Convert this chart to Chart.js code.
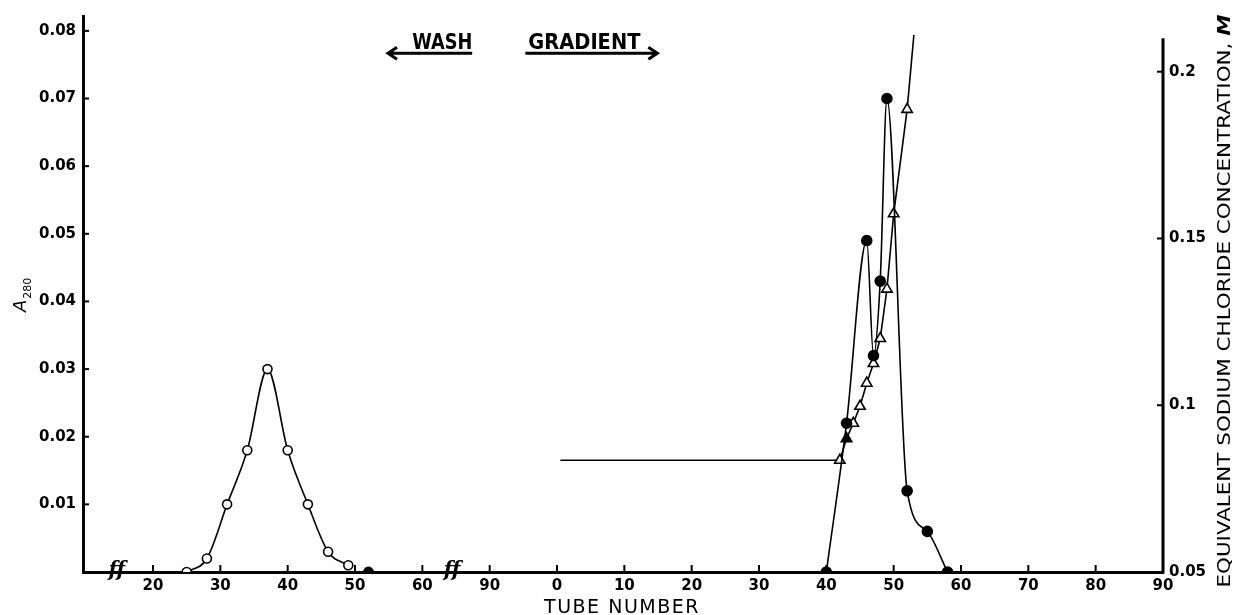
<!DOCTYPE html>
<html>
<head>
<meta charset="utf-8">
<script src="https://cdn.jsdelivr.net/npm/chart.js@4.4.1/dist/chart.umd.min.js"></script>
<style>
  html, body { margin: 0; padding: 0; background: #fff; }
  #wrap { width: 1235px; height: 615px; position: relative; }
</style>
</head>
<body>
<div id="wrap"><canvas id="elutionChart"></canvas></div>
<script>
// --- data ---
// wash fractions (open circles), A280
const washTubes = [25, 28, 31, 34, 37, 40, 43, 46, 49];
const washA280 = [0, 0.002, 0.010, 0.018, 0.030, 0.018, 0.010, 0.003, 0.001];
// last wash fraction drawn as a filled dot on the baseline
const washEndTubes = [52];
const washEndA280 = [0];

// gradient fractions (filled dots), A280
const gradTubes = [40, 43, 46, 47, 48, 49, 52, 55, 58];
const gradA280 = [0, 0.022, 0.049, 0.032, 0.043, 0.070, 0.012, 0.006, 0];

// gradient fractions (triangles), equivalent NaCl concentration (M)
const naclTubes = [0.5, 42, 43, 44, 45, 46, 47, 48, 49, 50, 52, 53];
const naclConc = [0.0835, 0.0835, 0.090, 0.0946, 0.0997, 0.1066, 0.1125, 0.120, 0.1348, 0.1574, 0.1887, 0.211];

// broken x axis: wash tubes run 10..60, then "90", then gradient tube 0 sits at position 80
const GRADIENT_OFFSET = 80;
const xTickPos = [20, 30, 40, 50, 60, 70, 80, 90, 100, 110, 120, 130, 140, 150, 160, 170];
const xTickLabels = ['20', '30', '40', '50', '60', '90', '0', '10', '20', '30', '40', '50', '60', '70', '80', '90'];
const breakPos = [14.6, 64.4];

const yTicks = [0.01, 0.02, 0.03, 0.04, 0.05, 0.06, 0.07, 0.08];
const y2Ticks = [0.05, 0.1, 0.15, 0.2];
const y2Labels = ['0.05', '0.1', '0.15', '0.2'];

const tickFont = { family: 'DejaVu Sans', size: 15, weight: 'bold' };

function pts(xs, ys, offset) {
    return xs.map((x, i) => ({ x: x + (offset || 0), y: ys[i] }));
}

// extra drawing: inside tick marks, right axis line, breaks, arrows, titles
const decorations = {
    id: 'decorations',
    afterDraw(chart) {
        const ctx = chart.ctx;
        const { x, y, y2 } = chart.scales;
        const area = chart.chartArea;
        ctx.save();
        ctx.strokeStyle = '#000';
        ctx.fillStyle = '#000';
        ctx.lineWidth = 2;

        // inside tick marks
        xTickPos.forEach(v => {
            const px = x.getPixelForValue(v);
            ctx.beginPath(); ctx.moveTo(px, area.bottom); ctx.lineTo(px, area.bottom - 7); ctx.stroke();
        });
        yTicks.forEach(v => {
            const py = y.getPixelForValue(v);
            ctx.beginPath(); ctx.moveTo(area.left, py); ctx.lineTo(area.left + 6, py); ctx.stroke();
        });
        y2Ticks.forEach(v => {
            const py = y2.getPixelForValue(v);
            ctx.beginPath(); ctx.moveTo(area.right, py); ctx.lineTo(area.right - 6, py); ctx.stroke();
        });

        // right axis line (starts a bit below the top)
        ctx.lineWidth = 3;
        ctx.beginPath();
        ctx.moveTo(area.right, y2.getPixelForValue(0.21));
        ctx.lineTo(area.right, area.bottom + 1.5);
        ctx.stroke();

        // axis break marks
        ctx.font = 'italic bold 20px "DejaVu Serif"';
        ctx.textAlign = 'center';
        ctx.textBaseline = 'middle';
        breakPos.forEach(v => {
            ctx.fillText('ff', x.getPixelForValue(v), area.bottom - 1);
        });

        // WASH / GRADIENT arrows
        const arrowY = y.getPixelForValue(0.0767);
        const washL = x.getPixelForValue(54.9), washR = x.getPixelForValue(67.4);
        const gradL = x.getPixelForValue(75.3), gradR = x.getPixelForValue(94.9);
        ctx.lineWidth = 3;
        ctx.beginPath();
        ctx.moveTo(washR, arrowY); ctx.lineTo(washL, arrowY);
        ctx.moveTo(washL + 9, arrowY - 6); ctx.lineTo(washL, arrowY); ctx.lineTo(washL + 9, arrowY + 6);
        ctx.moveTo(gradL, arrowY); ctx.lineTo(gradR, arrowY);
        ctx.moveTo(gradR - 9, arrowY - 6); ctx.lineTo(gradR, arrowY); ctx.lineTo(gradR - 9, arrowY + 6);
        ctx.stroke();
        ctx.font = 'bold 22px "DejaVu Sans Condensed", "DejaVu Sans"';
        ctx.textAlign = 'left';
        ctx.textBaseline = 'alphabetic';
        ctx.fillText('WASH', x.getPixelForValue(58.5), arrowY - 4, 60);
        ctx.fillText('GRADIENT', gradL + 3, arrowY - 4, 112);

        // x title
        ctx.font = '19px "DejaVu Sans"';
        ctx.letterSpacing = '1.5px';
        ctx.textAlign = 'center';
        ctx.textBaseline = 'alphabetic';
        ctx.fillText('TUBE NUMBER', 622, 613);
        ctx.letterSpacing = '0px';

        // left title A280
        ctx.save();
        ctx.translate(26, 312);
        ctx.rotate(-Math.PI / 2);
        ctx.textAlign = 'left';
        ctx.font = 'italic 18px "DejaVu Sans"';
        ctx.fillText('A', 0, 0);
        const wA = ctx.measureText('A').width;
        ctx.font = '11px "DejaVu Sans"';
        ctx.fillText('280', wA + 1, 5);
        ctx.restore();

        // right title
        ctx.save();
        ctx.translate(1230, 301);
        ctx.rotate(-Math.PI / 2);
        const mainTxt = 'EQUIVALENT SODIUM CHLORIDE CONCENTRATION, ';
        ctx.font = '18px "DejaVu Sans"';
        const w1 = ctx.measureText(mainTxt).width;
        ctx.font = 'italic bold 18px "DejaVu Sans"';
        const w2 = ctx.measureText('M').width;
        const total = w1 + w2;
        const target = 573;
        ctx.scale(target / total, 1);
        ctx.textAlign = 'left';
        ctx.font = '18px "DejaVu Sans"';
        ctx.fillText(mainTxt, -total / 2, 0);
        ctx.font = 'italic bold 18px "DejaVu Sans"';
        ctx.fillText('M', -total / 2 + w1, 0);
        ctx.restore();

        ctx.restore();
    }
};

const ctx = document.getElementById('elutionChart');
new Chart(ctx, {
    type: 'scatter',
    data: {
        datasets: [
            {
                label: 'Wash A280',
                data: pts(washTubes, washA280),
                showLine: true,
                cubicInterpolationMode: 'monotone',
                borderColor: '#000',
                borderWidth: 1.6,
                pointStyle: 'circle',
                pointRadius: 4.5,
                pointBackgroundColor: '#fff',
                pointBorderColor: '#000',
                pointBorderWidth: 1.6,
                yAxisID: 'y'
            },
            {
                label: 'Wash end',
                data: pts(washEndTubes, washEndA280),
                showLine: false,
                pointRadius: 5,
                pointBackgroundColor: '#000',
                pointBorderColor: '#000',
                yAxisID: 'y'
            },
            {
                label: 'Gradient A280',
                data: pts(gradTubes, gradA280, GRADIENT_OFFSET),
                showLine: true,
                cubicInterpolationMode: 'monotone',
                borderColor: '#000',
                borderWidth: 1.6,
                pointRadius: 5,
                pointBackgroundColor: '#000',
                pointBorderColor: '#000',
                yAxisID: 'y'
            },
            {
                label: 'NaCl',
                data: pts(naclTubes, naclConc, GRADIENT_OFFSET),
                showLine: true,
                tension: 0,
                borderColor: '#000',
                borderWidth: 1.6,
                pointStyle: 'triangle',
                pointRadius: c => (c.dataIndex === 0 || c.dataIndex === naclTubes.length - 1) ? 0 : 6,
                pointBackgroundColor: c => c.dataIndex === 2 ? '#000' : '#fff',
                pointBorderColor: '#000',
                pointBorderWidth: 1.6,
                yAxisID: 'y2'
            }
        ]
    },
    options: {
        responsive: true,
        maintainAspectRatio: false,
        animation: false,
        layout: { padding: { top: 12, left: 0, right: 0, bottom: 0 } },
        plugins: {
            legend: { display: false },
            tooltip: { enabled: false }
        },
        scales: {
            x: {
                type: 'linear',
                min: 9.6,
                max: 170,
                grid: { display: false, drawTicks: false },
                border: { display: true, color: '#000', width: 3 },
                afterBuildTicks: s => { s.ticks = xTickPos.map(v => ({ value: v })); },
                afterFit: s => { s.height = 43; },
                ticks: {
                    color: '#000',
                    font: tickFont,
                    padding: 5,
                    maxRotation: 0,
                    autoSkip: false,
                    callback: (v) => xTickLabels[xTickPos.indexOf(v)]
                }
            },
            y: {
                type: 'linear',
                position: 'left',
                min: 0,
                max: 0.0822,
                grid: { display: false, drawTicks: false },
                border: { display: true, color: '#000', width: 3 },
                afterBuildTicks: s => { s.ticks = yTicks.map(v => ({ value: v })); },
                afterFit: s => { s.width = 83; },
                ticks: {
                    color: '#000',
                    font: tickFont,
                    padding: 7,
                    callback: v => v.toFixed(2)
                }
            },
            y2: {
                type: 'linear',
                position: 'right',
                min: 0.05,
                max: 0.2167,
                grid: { display: false, drawTicks: false },
                border: { display: false },
                afterBuildTicks: s => { s.ticks = y2Ticks.map(v => ({ value: v })); },
                afterFit: s => { s.width = 72; },
                ticks: {
                    color: '#000',
                    font: tickFont,
                    padding: 6,
                    callback: v => y2Labels[y2Ticks.indexOf(v)]
                }
            }
        }
    },
    plugins: [decorations]
});
</script>
</body>
</html>
